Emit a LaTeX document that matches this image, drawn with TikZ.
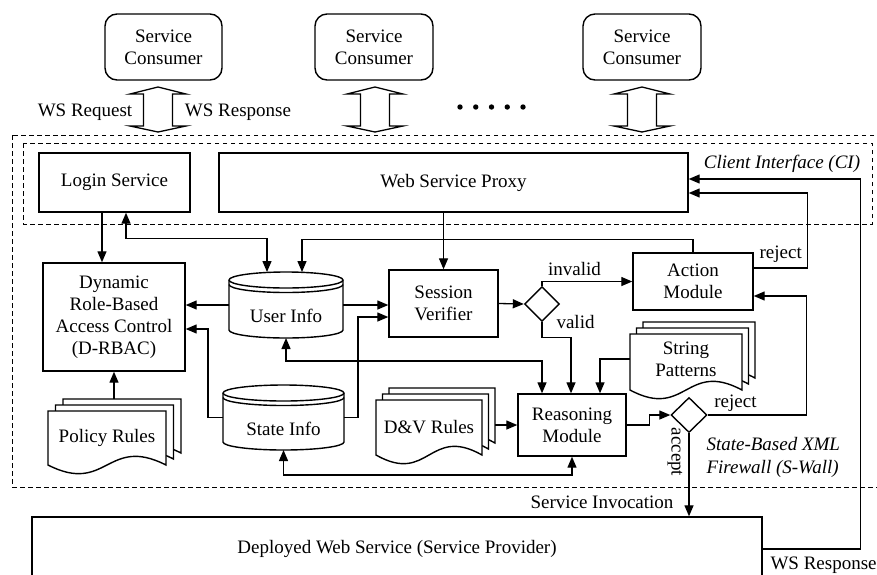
\documentclass[tikz,border=0pt]{standalone}
\usepackage{fontspec}
\setmainfont{Liberation Serif}
\usetikzlibrary{arrows.meta,shapes.geometric,calc}
\newcommand\wavesheet[4]{%
 \pgfmathsetmacro\wR{#1+#3}\pgfmathsetmacro\wB{#2+#4}\pgfmathsetmacro\wM{#1+#3/2}%
 \pgfmathsetmacro\wU{\wB-30}\pgfmathsetmacro\wD{\wB+30}%
 \draw[sheet] (#1,#2) -- (\wR,#2) -- (\wR,\wB) .. controls (\wM,\wU) and (\wM,\wD) .. (#1,\wB) -- cycle;}
\newcommand\cylshape[4]{%
 \pgfmathsetmacro\cR{#1+#3}\pgfmathsetmacro\cB{#2+#4}\pgfmathsetmacro\cRx{#3/2}%
 \pgfmathsetmacro\cTa{#2+8}\pgfmathsetmacro\cBa{\cB-8}\pgfmathsetmacro\cTb{#2+12.5}%
 \draw[sheet] (#1,\cTa) -- (#1,\cBa) arc[start angle=180, end angle=0, x radius=\cRx, y radius=8] -- (\cR,\cTa) arc[start angle=0, end angle=-180, x radius=\cRx, y radius=8] -- cycle;
 \draw[line width=1.4pt] (#1,\cTa) arc[start angle=180, end angle=0, x radius=\cRx, y radius=8];
 \draw[line width=1.4pt] (#1,\cTb) arc[start angle=180, end angle=0, x radius=\cRx, y radius=8];}
\newcommand\dblarrow[1]{\draw[line width=1.3pt, fill=white] (#1,87) -- ++(28,7) -- ++(-13.5,0) -- ++(0,32) -- ++(13.5,0) -- ++(-28,6) -- ++(-28,-6) -- ++(13.5,0) -- ++(0,-32) -- ++(-13.5,0) -- cycle;}
\begin{document}
\begin{tikzpicture}[x=1pt,y=-1pt,
  every node/.style={font=\fontsize{19}{22}\selectfont},
  box/.style={draw, line width=1.4pt, fill=white, inner sep=0pt, align=center},
  rbox/.style={box, rounded corners=12pt},
  plain/.style={inner sep=0pt, outer sep=0pt, align=center},
  line/.style={line width=1.3pt},
  arr/.style={line, -{Triangle[length=11pt,width=9pt]}},
  arrb/.style={line, {Triangle[length=11pt,width=9pt]}-{Triangle[length=11pt,width=9pt]}},
  dashbox/.style={line width=1pt, dash pattern=on 4.5pt off 3.5pt},
  sheet/.style={draw, line width=1.4pt, fill=white},
  ital/.style={font=\fontsize{19}{22}\selectfont\itshape},
]
\useasboundingbox (0,0) rectangle (877,574);
% dashed regions
\draw[dashbox] (12,135) rectangle (895,487);
\draw[dashbox] (23,143) rectangle (872,224);
% consumers
\node[rbox, minimum width=117pt, minimum height=66pt] (sc1) at (163.5,47) {Service\\Consumer};
\node[rbox, minimum width=118pt, minimum height=66pt] (sc2) at (374,47) {Service\\Consumer};
\node[rbox, minimum width=118pt, minimum height=66pt] (sc3) at (642,47) {Service\\Consumer};
\dblarrow{158}
\dblarrow{375}
\dblarrow{642}
\node[anchor=base] at (85,116) {WS Request};
\node[anchor=base] at (238,116) {WS Response};
\foreach \i in {0,...,4} \fill (460+15.75*\i,107) circle[radius=2.7];
% CI
\node[box, minimum width=151pt, minimum height=59pt] (login) at (114.5,182.5) {Login Service};
\node[box, minimum width=469pt, minimum height=59pt] (wsp) at (453.5,182.5) {Web Service Proxy};
\node[ital, anchor=base] at (782,168) {Client Interface (CI)};
% S-Wall
\node[box, minimum width=142pt, minimum height=108pt] (drbac) at (114,317) {Dynamic\\Role-Based\\Access Control\\(D-RBAC)};
\cylshape{229}{272}{114}{66}
\node[plain, minimum width=114pt, minimum height=66pt] (ui) at (286,305) {};
\node at (286,316) {User Info};
\cylshape{223}{385}{121}{65}
\node[plain, minimum width=121pt, minimum height=65pt] (si) at (283.5,417.5) {};
\node at (283.5,429) {State Info};
\node[box, minimum width=109pt, minimum height=67pt] (sv) at (443.5,303.5) {Session\\Verifier};
\node[draw, diamond, line width=1.4pt, minimum width=35pt, minimum height=35pt, inner sep=0pt] (d1) at (542,304) {};
\node[box, minimum width=120pt, minimum height=57pt] (am) at (693,281.5) {Action\\Module};
\node[box, minimum width=108pt, minimum height=62pt] (rm) at (572,425) {Reasoning\\Module};
\node[draw, diamond, line width=1.4pt, minimum width=36pt, minimum height=35pt, inner sep=0pt] (d2) at (689,415) {};
% document stacks
\wavesheet{63}{399}{118}{54}
\wavesheet{55.5}{405}{118}{54}
\wavesheet{48}{411}{118}{54}
\node[plain, minimum width=118pt, minimum height=54pt] (prb) at (122,426) {};
\node[plain, minimum width=118pt, minimum height=54pt] (pr) at (107,438) {Policy Rules};
\wavesheet{389}{388}{106}{55}
\wavesheet{382.5}{394}{106}{55}
\wavesheet{376}{400}{106}{55}
\node[plain, minimum width=106pt, minimum height=55pt] (dvb) at (442,415.5) {};
\node[plain, minimum width=106pt, minimum height=55pt] (dv) at (429,427.5) {D\&V Rules};
\wavesheet{643}{322}{112}{56}
\wavesheet{636.5}{328}{112}{56}
\wavesheet{630}{334}{112}{56}
\node[plain, minimum width=112pt, minimum height=50pt] (sp) at (686,359) {String\\Patterns};
% deployed service
\node[box, minimum width=730pt, minimum height=64pt] (dws) at (397,549) {Deployed Web Service (Service Provider)};
% labels
\node[ital, anchor=base west] at (703,450) {State-Based XML};
\node[ital, anchor=base west] at (703,473) {Firewall (S-Wall)};
\node[anchor=base west] at (553,328) {valid};
\node[rotate=-90] at (675,452) {accept};
\node[anchor=base east] at (677,508) {Service Invocation};
\node[anchor=base west] at (767,569) {WS Response};
% connectors
\draw[arr] ([xshift=-12.5pt]login.south) -- ([xshift=-12pt]drbac.north);
\draw[arrb] ([xshift=11.5pt]login.south) -- ++(0,26) -| ([xshift=-19pt]ui.north);
\draw[arr] (am.north) -- ++(0,-13) -| ([xshift=16pt]ui.north);
\draw[arr] (sv.north |- wsp.south) -- (sv.north);
\draw[arr] (ui.west) -- (drbac.east |- ui.west);
\draw[arr] (si.west) -- ++(-15,0) |- ([yshift=-12pt]drbac.east);
\draw[arr] (ui.east) -- (sv.west |- ui.east);
\draw[arr] (si.east) -- ++(14,0) |- ([yshift=-13.5pt]sv.west);
\draw[arrb] (ui.south) -- ++(0,23) -| ([xshift=-30pt]rm.north);
\draw[arrb] (si.south) -- ++(0,25) -| (rm.south);
\draw[arr] (sv.east) -- (d1.west);
\draw[arr] (d1.north) |- node[pos=0.68, anchor=base, yshift=6pt] {invalid} (am.west);
\draw[arr] (d1.south) -- ++(0,15) -| ([xshift=-1pt]rm.north);
\draw[arr] ([yshift=13.5pt]am.east) -- node[pos=0.5, anchor=base, yshift=10pt] {reject} ++(54,0) |- ([yshift=-10.5pt]wsp.east);
\draw[arr] (dws.east) -- ++(98,0) |- ([yshift=3.5pt]wsp.east);
\draw[arr] (sp.west) -| ([xshift=28pt]rm.north);
\draw[arr] (dvb.east |- rm.west) -- (rm.west);
\draw[arr] (rm.east) -- ++(23,0) |- (d2.west);
\draw[arr] (d2.east) -- node[pos=0.28, anchor=base, yshift=8pt] {reject} ++(99,0) |- ([yshift=-14.5pt]am.east);
\draw[arr] (d2.south) -- (d2.south |- dws.north);
\draw[arr] (drbac.south |- prb.north) -- (drbac.south);
\end{tikzpicture}
\end{document}
